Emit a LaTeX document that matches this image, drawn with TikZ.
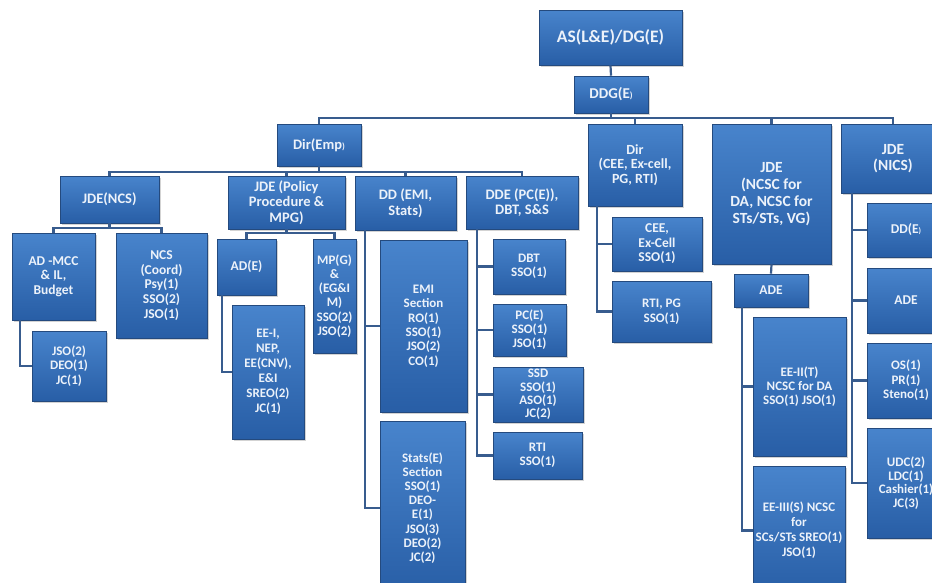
\documentclass[tikz,border=0pt]{standalone}
\usepackage{fontspec}
\setmainfont{Carlito}
\usepackage{tikz}
\usetikzlibrary{shadows, positioning}
\definecolor{boxtop}{RGB}{72, 132, 204}
\definecolor{boxbot}{RGB}{40, 94, 166}
\definecolor{boxline}{RGB}{36, 74, 126}
\definecolor{connblue}{RGB}{56, 92, 142}
\definecolor{boxtext}{RGB}{236, 242, 250}

\tikzset{
  unit/.style={draw=boxline, line width=0.6pt, top color=boxtop, bottom color=boxbot,
    text=boxtext, font=\bfseries, align=center, inner sep=1pt,
    drop shadow={shadow xshift=1.5pt, shadow yshift=-1.8pt, opacity=0.35}},
  conn/.style={draw=connblue, line width=2.2pt}
}
\newcommand{\fsz}[2]{\bfseries\fontsize{#1}{#2}\selectfont}

\begin{document}
\begin{tikzpicture}[x=1pt, y=-1pt]
    \useasboundingbox (0,0) rectangle (932,582);

    % Top of the chart
    \node[unit, minimum width=143pt, minimum height=55pt, font=\fsz{17.5}{21}] (as) at (610.5,37.5) {AS(L\&E)/DG(E)};
    \node[unit, minimum width=74pt, minimum height=37pt, font=\fsz{15}{17}] (ddg) at (611,94.5) {DDG(E{\fontsize{9}{10}\selectfont)}};

    % Directors and JDEs under DDG
    \node[unit, minimum width=84pt, minimum height=42pt, font=\fsz{14.5}{17}] (dirEmp) at (319,145) {Dir(Emp{\fontsize{9}{10}\selectfont)}};
    \node[unit, minimum width=94pt, minimum height=82pt, font=\fsz{14}{14.5}] (dirCee) at (635,165) {Dir\\(CEE, Ex-cell,\\PG, RTI)};
    \node[unit, minimum width=119pt, minimum height=140pt, font=\fsz{15.5}{17}] (jdeNcsc) at (771.5,194) {JDE\\(NCSC for\\DA, NCSC for\\STs/STs, VG)};
    \node[unit, minimum width=104pt, minimum height=69pt, font=\fsz{15.5}{16}] (jdeNics) at (893,158.5) {JDE\\(NICS)};

    % Under Dir(Emp)
    \node[unit, minimum width=99pt, minimum height=47pt, font=\fsz{14.5}{15.5}] (jdeNcs) at (109.5,199.5) {JDE(NCS)};
    \node[unit, minimum width=117pt, minimum height=53pt, font=\fsz{14.5}{15.5}] (jdePol) at (286.5,202.5) {JDE (Policy\\Procedure \&\\MPG)};
    \node[unit, minimum width=101pt, minimum height=54pt, font=\fsz{14.5}{15.5}] (ddEmi) at (405.5,203) {DD (EMI,\\Stats)};
    \node[unit, minimum width=112pt, minimum height=53pt, font=\fsz{14.5}{15.5}] (ddePc) at (522,202.5) {DDE (PC(E)),\\DBT, S\&S};

    % Under JDE(NCS)
    \node[unit, minimum width=83pt, minimum height=87pt, font=\fsz{13.5}{14.5}] (adMcc) at (53.5,276.5) {AD -MCC\\\& IL,\\Budget};
    \node[unit, minimum width=91pt, minimum height=105pt, font=\fsz{13.5}{14.8}] (ncsCoord) at (161.5,285.5) {NCS\\(Coord)\\Psy(1)\\SSO(2)\\JSO(1)};
    \node[unit, minimum width=74pt, minimum height=70pt, font=\fsz{13}{14.2}] (jsoMcc) at (69,366) {JSO(2)\\DEO(1)\\JC(1)};

    % Under JDE (Policy)
    \node[unit, minimum width=59pt, minimum height=56pt, font=\fsz{13.5}{15}] (adE) at (246.5,267) {AD(E)};
    \node[unit, minimum width=43pt, minimum height=114pt, font=\fsz{13}{14.2}] (mpG) at (334.5,296) {MP(G)\\\&\\(EG\&I\\M)\\SSO(2)\\JSO(2)};
    \node[unit, minimum width=72pt, minimum height=134pt, font=\fsz{13}{15}] (eeI) at (268,372) {EE-I,\\NEP,\\EE(CNV),\\E\&I\\SREO(2)\\JC(1)};

    % Under DD (EMI, Stats)
    \node[unit, minimum width=87pt, minimum height=172pt, font=\fsz{13}{14.4}] (emiSec) at (423.5,326) {EMI\\Section\\RO(1)\\SSO(1)\\JSO(2)\\CO(1)};
    \node[unit, minimum width=85pt, minimum height=174pt, font=\fsz{13}{14.1}] (statsSec) at (422.5,508) {Stats(E)\\Section\\SSO(1)\\DEO-\\E(1)\\JSO(3)\\DEO(2)\\JC(2)};

    % Under DDE (PC(E))
    \node[unit, minimum width=72pt, minimum height=55pt, font=\fsz{13}{14.3}] (dbt) at (529,266.5) {DBT\\SSO(1)};
    \node[unit, minimum width=73pt, minimum height=52pt, font=\fsz{13}{14}] (pcE) at (529.5,330) {PC(E)\\SSO(1)\\JSO(1)};
    \node[unit, minimum width=90pt, minimum height=55pt, font=\fsz{13}{13.2}] (ssd) at (538,394.5) {SSD\\SSO(1)\\ASO(1)\\JC(2)};
    \node[unit, minimum width=89pt, minimum height=47pt, font=\fsz{13}{14.3}] (rtiSso) at (537.5,455.5) {RTI\\SSO(1)};

    % Under Dir (CEE)
    \node[unit, minimum width=90pt, minimum height=54pt, font=\fsz{13.5}{14.5}] (cee) at (657,244) {CEE,\\Ex-Cell\\SSO(1)};
    \node[unit, minimum width=99pt, minimum height=61pt, font=\fsz{13}{15}] (rtiPg) at (661.5,311.5) {RTI, PG\\SSO(1)};

    % Under JDE (NCSC)
    \node[unit, minimum width=74pt, minimum height=33pt, font=\fsz{13.5}{15}] (adeNcsc) at (771,290.5) {ADE};
    \node[unit, minimum width=93pt, minimum height=139pt, font=\fsz{13}{14.2}] (eeII) at (799.5,386.5) {EE-II(T)\\NCSC for DA\\SSO(1) JSO(1)};
    \node[unit, minimum width=92pt, minimum height=129pt, font=\fsz{13}{15}] (eeIII) at (799,530.5) {EE-III(S) NCSC\\for\\SCs/STs SREO(1)\\JSO(1)};

    % Under JDE (NICS)
    \node[unit, minimum width=78pt, minimum height=54pt, font=\fsz{13.5}{15}] (ddE) at (906,230) {DD(E{\fontsize{8}{9}\selectfont)}};
    \node[unit, minimum width=78pt, minimum height=65pt, font=\fsz{13.5}{15}] (adeNics) at (906,300.5) {ADE};
    \node[unit, minimum width=78pt, minimum height=75pt, font=\fsz{13}{14.5}] (osPr) at (906,380.5) {OS(1)\\PR(1)\\Steno(1)};
    \node[unit, minimum width=78pt, minimum height=110pt, font=\fsz{13}{13.5}] (udc) at (906,483) {UDC(2)\\LDC(1)\\Cashier(1)\\JC(3)};

    % Connections
    \draw[conn] (as.south) -- (ddg.north);
    \draw[conn] (ddg.south) -- ++(0,5) -| (dirEmp.north);
    \draw[conn] (ddg.south) -- ++(0,5) -| (dirCee.north);
    \draw[conn] (ddg.south) -- ++(0,5) -| (jdeNcsc.north);
    \draw[conn] (ddg.south) -- ++(0,5) -| (jdeNics.north);

    \draw[conn] (dirEmp.south) -- ++(0,6) -| (jdeNcs.north);
    \draw[conn] (dirEmp.south) -- ++(0,6) -| (jdePol.north);
    \draw[conn] (dirEmp.south) -- ++(0,6) -| (ddEmi.north);
    \draw[conn] (dirEmp.south) -- ++(0,6) -| (ddePc.north);

    \draw[conn] (jdeNcs.south) -- ++(0,5) -| (adMcc.north);
    \draw[conn] (jdeNcs.south) -- ++(0,5) -| (ncsCoord.north);
    \draw[conn] ([xshift=8pt]adMcc.south west) |- (jsoMcc.west);

    \draw[conn] (jdePol.south) -- ++(0,4) -| (adE.north);
    \draw[conn] (jdePol.south) -- ++(0,4) -| (mpG.north);
    \draw[conn] ([xshift=5pt]adE.south west) |- (eeI.west);

    \draw[conn] ([xshift=10pt]ddEmi.south west) |- (emiSec.west);
    \draw[conn] ([xshift=10pt]ddEmi.south west) |- (statsSec.west);

    \draw[conn] ([xshift=11pt]ddePc.south west) |- (dbt.west);
    \draw[conn] ([xshift=11pt]ddePc.south west) |- (pcE.west);
    \draw[conn] ([xshift=11pt]ddePc.south west) |- (ssd.west);
    \draw[conn] ([xshift=11pt]ddePc.south west) |- (rtiSso.west);

    \draw[conn] ([xshift=9pt]dirCee.south west) |- (cee.west);
    \draw[conn] ([xshift=9pt]dirCee.south west) |- (rtiPg.west);

    \draw[conn] (jdeNcsc.south) -- (adeNcsc.north);
    \draw[conn] ([xshift=8pt]adeNcsc.south west) |- (eeII.west);
    \draw[conn] ([xshift=8pt]adeNcsc.south west) |- (eeIII.west);

    \draw[conn] ([xshift=11pt]jdeNics.south west) |- (ddE.west);
    \draw[conn] ([xshift=11pt]jdeNics.south west) |- (adeNics.west);
    \draw[conn] ([xshift=11pt]jdeNics.south west) |- (osPr.west);
    \draw[conn] ([xshift=11pt]jdeNics.south west) |- (udc.west);
  \end{tikzpicture}
\end{document}
